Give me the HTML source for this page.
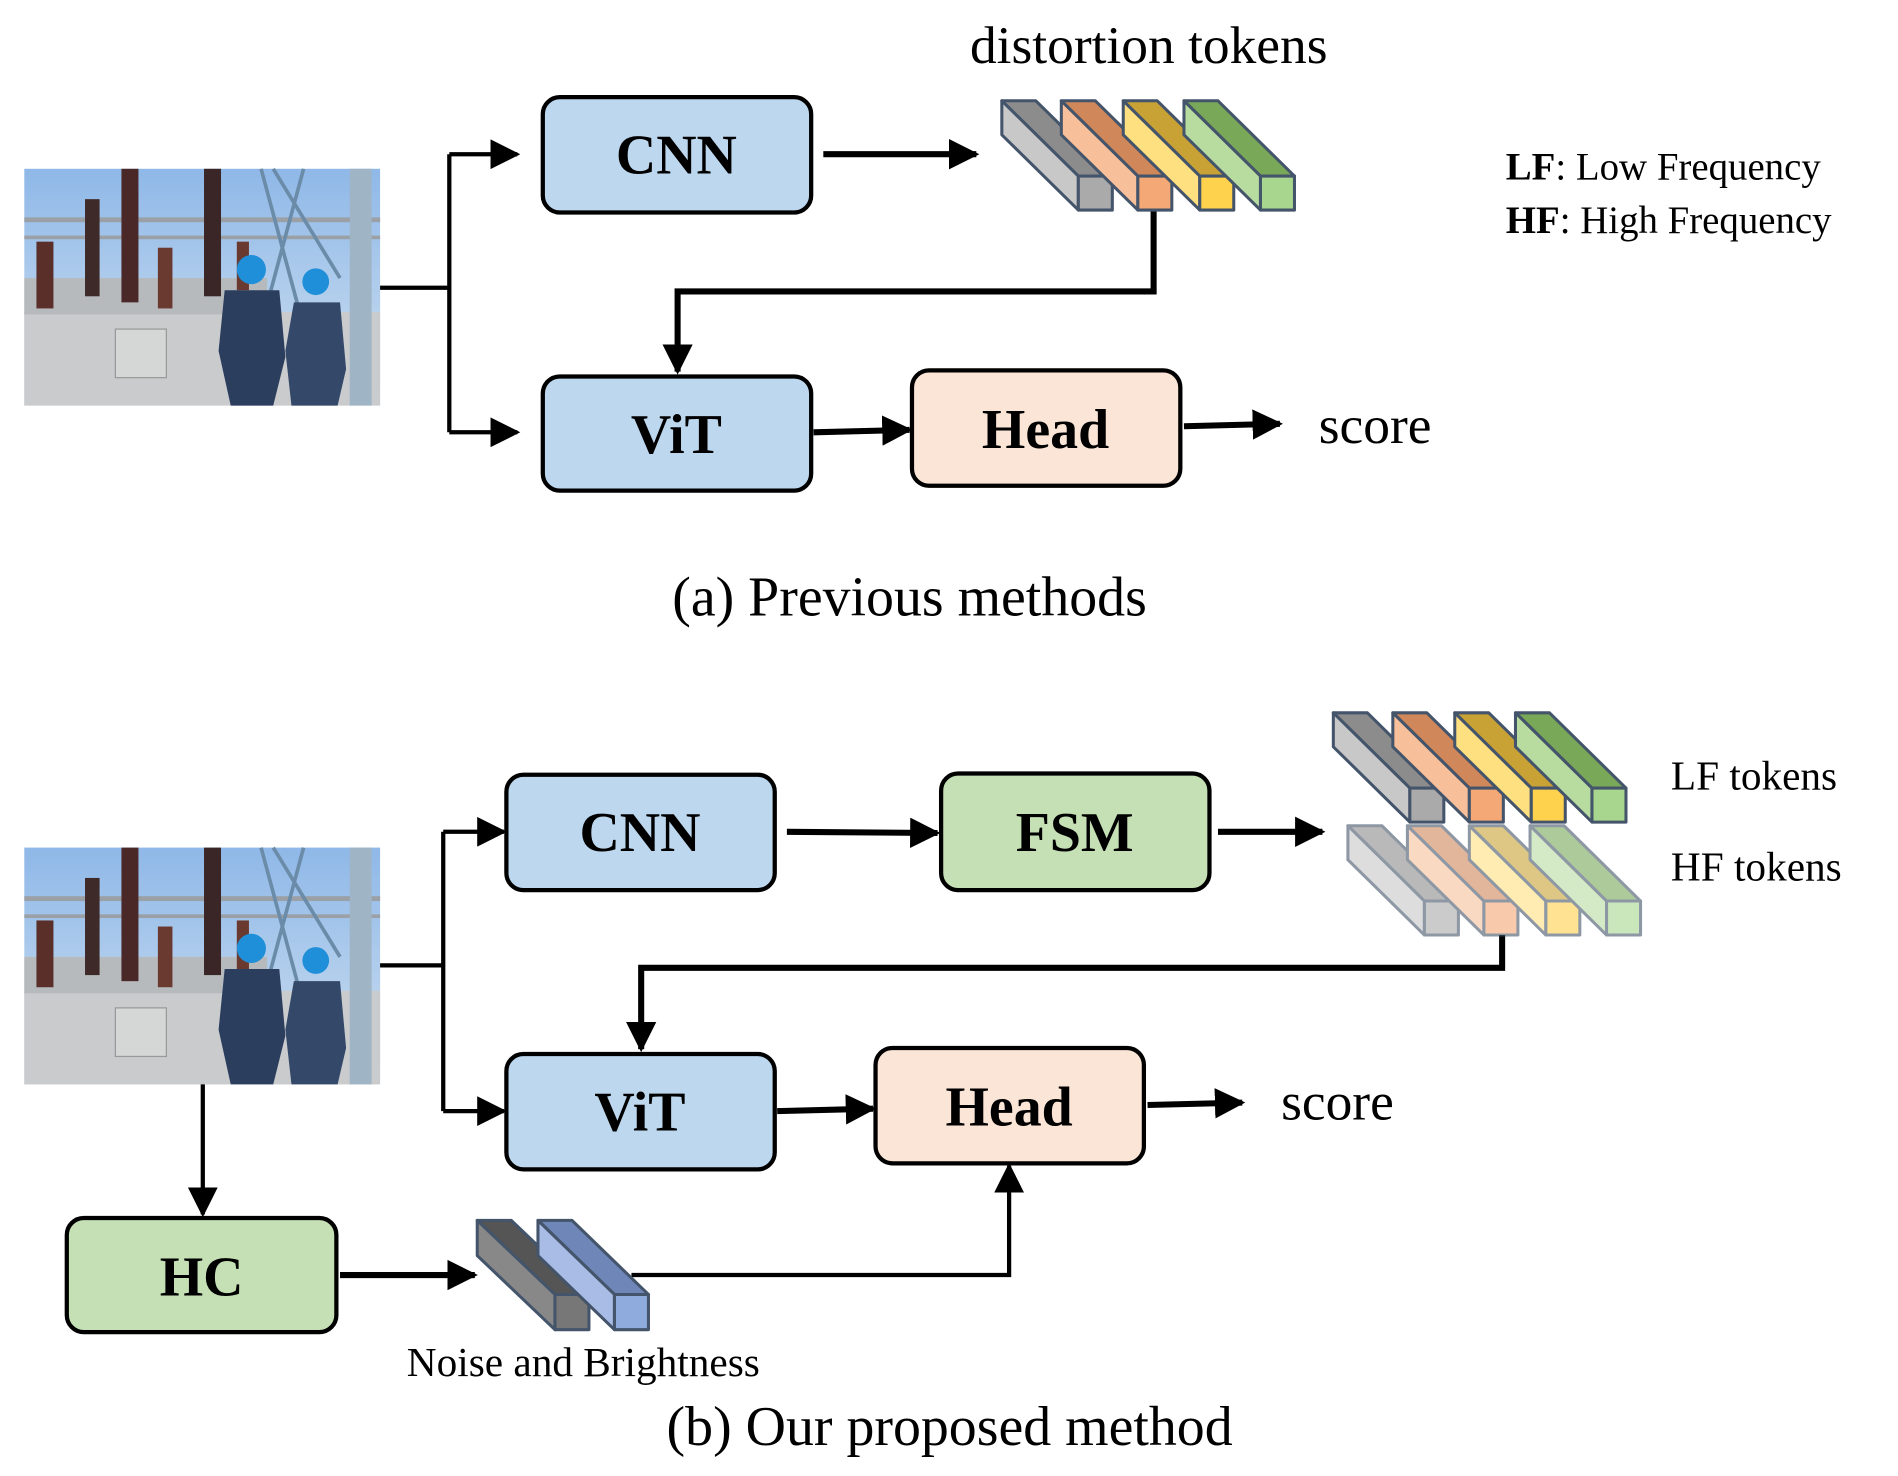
<!DOCTYPE html>
<html><head><meta charset="utf-8"><style>
html,body{margin:0;padding:0;background:#fff;}
svg{display:block;}
text{font-family:"Liberation Serif","Times New Roman",serif;fill:#000;}
.b{font-weight:bold;}
</style></head><body>
<svg width="1898" height="1476" viewBox="0 0 1563 1215.5" xmlns="http://www.w3.org/2000/svg" font-family="Liberation Serif, serif">
<defs>
<linearGradient id="sky" x1="0" y1="0" x2="0" y2="1"><stop offset="0" stop-color="#8fb8e8"/><stop offset="1" stop-color="#cfe0f0"/></linearGradient>
<marker id="ah" viewBox="0 0 10 10" refX="9" refY="5" markerWidth="5" markerHeight="5" markerUnits="strokeWidth" orient="auto"><path d="M0,0L10,5L0,10z" fill="#000"/></marker>
<marker id="ah2" viewBox="0 0 10 10" refX="9" refY="5" markerWidth="7" markerHeight="7" markerUnits="strokeWidth" orient="auto"><path d="M0,0L10,5L0,10z" fill="#000"/></marker>
<g id="photo">
<rect x="0" y="0" width="293" height="195" fill="url(#sky)"/>
<rect x="0" y="118" width="293" height="77" fill="#c9cbcc"/>
<rect x="0" y="90" width="200" height="30" fill="#b7babd"/>
<rect x="0" y="40" width="293" height="4" fill="#9aa0a6"/>
<rect x="0" y="55" width="293" height="3" fill="#9aa0a6"/>
<rect x="10" y="60" width="14" height="55" fill="#5a2f2a"/>
<rect x="50" y="25" width="12" height="80" fill="#3f2a2a"/>
<rect x="80" y="0" width="14" height="110" fill="#4a2828"/>
<rect x="110" y="65" width="12" height="50" fill="#6a3a30"/>
<rect x="148" y="0" width="14" height="105" fill="#3a2626"/>
<rect x="175" y="60" width="10" height="40" fill="#6a3a30"/>
<path d="M195,0L230,130M230,0L195,130M205,0L260,90" stroke="#6b8ca8" stroke-width="3" fill="none"/>
<rect x="268" y="0" width="18" height="195" fill="#9fb4c4"/>
<rect x="75" y="132" width="42" height="40" fill="#d5d6d6" stroke="#999" stroke-width="1"/>
<circle cx="187" cy="83" r="12" fill="#1e8fd8"/>
<path d="M165,100L210,100L215,155L205,195L170,195L160,150z" fill="#2c3e5e"/>
<circle cx="240" cy="93" r="11" fill="#1e8fd8"/>
<path d="M222,110L260,110L265,165L258,195L220,195L215,150z" fill="#34486a"/>
</g>
</defs>

<!-- (a) -->
<text x="946" y="52" font-size="44" text-anchor="middle">distortion tokens</text>
<use href="#photo" x="20" y="139"/>
<g stroke="#000" stroke-width="3.5" fill="none">
<path d="M313,237H370M370,127V356"/>
<path d="M370,127H426" marker-end="url(#ah2)"/>
<path d="M370,356H426" marker-end="url(#ah2)"/>
</g>
<g stroke="#000" stroke-width="5" fill="none">
<path d="M678,127H804" marker-end="url(#ah)"/>
<path d="M950,173V240H558V306" marker-end="url(#ah)"/>
<path d="M670,356L749,354" marker-end="url(#ah)"/>
<path d="M975,351L1054,349" marker-end="url(#ah)"/>
</g>
<rect x="447" y="80" width="221" height="95" rx="14" fill="#bdd7ee" stroke="#000" stroke-width="3.5"/>
<text x="557" y="143" font-size="46" class="b" text-anchor="middle">CNN</text>
<rect x="447" y="310" width="221" height="94" rx="14" fill="#bdd7ee" stroke="#000" stroke-width="3.5"/>
<text x="557" y="373" font-size="46" class="b" text-anchor="middle">ViT</text>
<rect x="751" y="305" width="221" height="95" rx="14" fill="#fbe5d6" stroke="#000" stroke-width="3.5"/>
<text x="861" y="369" font-size="46" class="b" text-anchor="middle">Head</text>
<text x="1086" y="365" font-size="44">score</text>
<text x="1240" y="148" font-size="32"><tspan class="b">LF</tspan>: Low Frequency</text>
<text x="1240" y="192" font-size="32"><tspan class="b">HF</tspan>: High Frequency</text>

<g stroke="#44546a" stroke-width="2.5" stroke-linejoin="round">
<g><path d="M825,83L853,83L916,145L888,145z" fill="#8c8c8c"/><path d="M825,83L888,145L888,173L825,111z" fill="#c8c8c8"/><rect x="888" y="145" width="28" height="28" fill="#aaa"/></g>
<g><path d="M874,83L902,83L965,145L937,145z" fill="#d0875a"/><path d="M874,83L937,145L937,173L874,111z" fill="#f8c09a"/><rect x="937" y="145" width="28" height="28" fill="#f4a875"/></g>
<g><path d="M925,83L953,83L1016,145L988,145z" fill="#c9a235"/><path d="M925,83L988,145L988,173L925,111z" fill="#ffe080"/><rect x="988" y="145" width="28" height="28" fill="#ffd24d"/></g>
<g><path d="M975,83L1003,83L1066,145L1038,145z" fill="#78a858"/><path d="M975,83L1038,145L1038,173L975,111z" fill="#b8dca0"/><rect x="1038" y="145" width="28" height="28" fill="#a8d68e"/></g>
</g>

<text x="749" y="507" font-size="46" text-anchor="middle">(a) Previous methods</text>

<!-- (b) -->
<use href="#photo" x="20" y="698"/>
<g stroke="#000" stroke-width="3.5" fill="none">
<path d="M313,795H365M365,685V915"/>
<path d="M365,685H415" marker-end="url(#ah2)"/>
<path d="M365,915H415" marker-end="url(#ah2)"/>
<path d="M167,893V1000" marker-end="url(#ah2)"/>
<path d="M520,1050H831V960" marker-end="url(#ah2)"/>
</g>
<g stroke="#000" stroke-width="5" fill="none">
<path d="M648,685L772,686" marker-end="url(#ah)"/>
<path d="M1003,685H1089" marker-end="url(#ah)"/>
<path d="M1237,770V797H528V864" marker-end="url(#ah)"/>
<path d="M640,915L719,913" marker-end="url(#ah)"/>
<path d="M945,910L1023,908" marker-end="url(#ah)"/>
<path d="M280,1050H391" marker-end="url(#ah)"/>
</g>
<rect x="417" y="638" width="221" height="95" rx="14" fill="#bdd7ee" stroke="#000" stroke-width="3.5"/>
<text x="527" y="701" font-size="46" class="b" text-anchor="middle">CNN</text>
<rect x="775" y="637" width="221" height="96" rx="14" fill="#c5e0b4" stroke="#000" stroke-width="3.5"/>
<text x="885" y="701" font-size="46" class="b" text-anchor="middle">FSM</text>
<rect x="417" y="868" width="221" height="95" rx="14" fill="#bdd7ee" stroke="#000" stroke-width="3.5"/>
<text x="527" y="931" font-size="46" class="b" text-anchor="middle">ViT</text>
<rect x="721" y="863" width="221" height="95" rx="14" fill="#fbe5d6" stroke="#000" stroke-width="3.5"/>
<text x="831" y="927" font-size="46" class="b" text-anchor="middle">Head</text>
<text x="1055" y="922" font-size="44">score</text>
<rect x="55" y="1003" width="222" height="94" rx="14" fill="#c5e0b4" stroke="#000" stroke-width="3.5"/>
<text x="166" y="1067" font-size="46" class="b" text-anchor="middle">HC</text>

<g stroke="#44546a" stroke-width="2.5" stroke-linejoin="round">
<g opacity="0.6">
<g><path d="M1110,680L1138,680L1201,742L1173,742z" fill="#8c8c8c"/><path d="M1110,680L1173,742L1173,770L1110,708z" fill="#c8c8c8"/><rect x="1173" y="742" width="28" height="28" fill="#aaa"/></g>
<g><path d="M1159,680L1187,680L1250,742L1222,742z" fill="#d0875a"/><path d="M1159,680L1222,742L1222,770L1159,708z" fill="#f8c09a"/><rect x="1222" y="742" width="28" height="28" fill="#f4a875"/></g>
<g><path d="M1210,680L1238,680L1301,742L1273,742z" fill="#c9a235"/><path d="M1210,680L1273,742L1273,770L1210,708z" fill="#ffe080"/><rect x="1273" y="742" width="28" height="28" fill="#ffd24d"/></g>
<g><path d="M1260,680L1288,680L1351,742L1323,742z" fill="#78a858"/><path d="M1260,680L1323,742L1323,770L1260,708z" fill="#b8dca0"/><rect x="1323" y="742" width="28" height="28" fill="#a8d68e"/></g>
</g>
<g><path d="M1098,587L1126,587L1189,649L1161,649z" fill="#8c8c8c"/><path d="M1098,587L1161,649L1161,677L1098,615z" fill="#c8c8c8"/><rect x="1161" y="649" width="28" height="28" fill="#aaa"/></g>
<g><path d="M1147,587L1175,587L1238,649L1210,649z" fill="#d0875a"/><path d="M1147,587L1210,649L1210,677L1147,615z" fill="#f8c09a"/><rect x="1210" y="649" width="28" height="28" fill="#f4a875"/></g>
<g><path d="M1198,587L1226,587L1289,649L1261,649z" fill="#c9a235"/><path d="M1198,587L1261,649L1261,677L1198,615z" fill="#ffe080"/><rect x="1261" y="649" width="28" height="28" fill="#ffd24d"/></g>
<g><path d="M1248,587L1276,587L1339,649L1311,649z" fill="#78a858"/><path d="M1248,587L1311,649L1311,677L1248,615z" fill="#b8dca0"/><rect x="1311" y="649" width="28" height="28" fill="#a8d68e"/></g>
<g><path d="M393,1005L421,1005L485,1066L457,1066z" fill="#555"/><path d="M393,1005L457,1066L457,1095L393,1034z" fill="#888"/><rect x="457" y="1066" width="28" height="29" fill="#777"/></g>
<g><path d="M443,1005L471,1005L534,1066L506,1066z" fill="#6f86b8"/><path d="M443,1005L506,1066L506,1095L443,1034z" fill="#a8bce6"/><rect x="506" y="1066" width="28" height="29" fill="#8faadc"/></g>
</g>
<text x="1376" y="650" font-size="34">LF tokens</text>
<text x="1376" y="725" font-size="34">HF tokens</text>
<text x="335" y="1133" font-size="34">Noise and Brightness</text>
<text x="782" y="1190" font-size="46" text-anchor="middle">(b) Our proposed method</text>
</svg>
</body></html>
